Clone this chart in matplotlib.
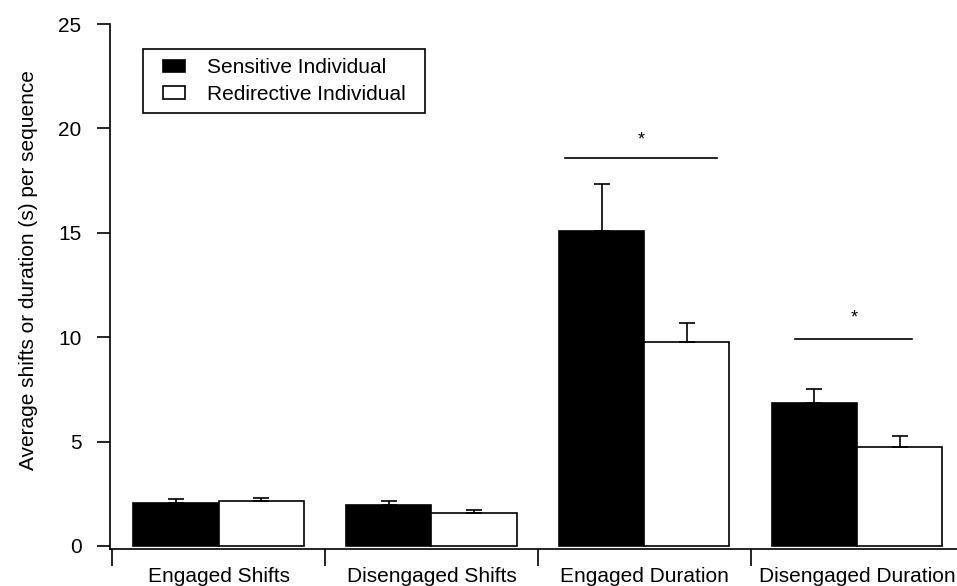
import numpy as np
import matplotlib
matplotlib.use('Agg')
import matplotlib.pyplot as plt
import matplotlib.patches as mpatches
from matplotlib.legend_handler import HandlerPatch

plt.rcParams['font.family'] = ['Liberation Sans', 'DejaVu Sans']

# Dane
kategorie = ['Engaged Shifts', 'Disengaged Shifts', 'Engaged Duration', 'Disengaged Duration']
sensitive = [2.07, 1.96, 15.1, 6.83]
sensitive_err = [0.2, 0.18, 2.25, 0.7]
redirective = [2.15, 1.6, 9.78, 4.73]
redirective_err = [0.15, 0.14, 0.89, 0.52]

# istotnosc: (kategoria, poczatek, koniec, wysokosc linii, wysokosc gwiazdki)
istotne = [(2, -0.37, 0.34, 18.6, 19.45), (3, -0.29, 0.26, 9.9, 10.9)]

x = np.arange(len(kategorie))
w = 0.4
fs = 15


# prostokat w legendzie przesuniety w prawo
def prostokat(legend, orig_handle, xdescent, ydescent, width, height, fontsize):
    hw = 1.05 * fontsize
    return mpatches.Rectangle((-xdescent + width - hw, -ydescent), hw, height)


fig = plt.figure(figsize=(9.57, 5.86), dpi=100)
ax = fig.add_axes([0.115, 0.063, 0.885, 0.896])

b1 = ax.bar(x - w / 2, sensitive, w, color='black', edgecolor='black', linewidth=1.2,
            label='Sensitive Individual')
b2 = ax.bar(x + w / 2, redirective, w, color='white', edgecolor='black', linewidth=1.2,
            label='Redirective Individual')
ax.errorbar(x - w / 2, sensitive, yerr=[np.zeros(4), sensitive_err], fmt='none',
            ecolor='black', elinewidth=1.2, capsize=6, capthick=1.2)
ax.errorbar(x + w / 2, redirective, yerr=[np.zeros(4), redirective_err], fmt='none',
            ecolor='black', elinewidth=1.2, capsize=6, capthick=1.2)

for k, a, b, yl, ys in istotne:
    ax.plot([k + a, k + b], [yl, yl], color='black', linewidth=1.2)
    ax.text(k + (a + b) / 2, ys, '*', ha='center', va='center', fontsize=13)

ax.set_xlim(-0.51, 3.47)
ax.set_ylim(-0.15, 25)
ax.set_yticks([0, 5, 10, 15, 20, 25])
ax.set_xticks([-0.5, 0.5, 1.5, 2.5])
ax.set_xticklabels([])
ax.set_xticks(x, minor=True)
ax.set_xticklabels(kategorie, minor=True)
ax.tick_params(axis='x', which='major', direction='out', length=12, width=1.2)
ax.tick_params(axis='x', which='minor', length=0, pad=13, labelsize=fs)
ax.tick_params(axis='y', direction='out', length=9.5, width=1.2, labelsize=fs, pad=11)
ax.spines['top'].set_visible(False)
ax.spines['right'].set_visible(False)
ax.spines['left'].set_linewidth(1.2)
ax.spines['bottom'].set_linewidth(1.2)
ax.set_ylabel('Average shifts or duration (s) per sequence', fontsize=fs)
ax.yaxis.set_label_coords(-0.085, 0.531)

leg = ax.legend(handles=[b1.patches[0], b2.patches[0]],
                labels=['Sensitive Individual', 'Redirective Individual'],
                loc='upper left',
                bbox_to_anchor=(143 / 957, 1 - 114 / 586, 282 / 957, 65 / 586),
                bbox_transform=fig.transFigure, mode='expand', fontsize=fs,
                fancybox=False, edgecolor='black', framealpha=1,
                handler_map={mpatches.Rectangle: HandlerPatch(patch_func=prostokat)},
                handlelength=1.55, handleheight=0.55, handletextpad=1.05,
                borderpad=0.45, labelspacing=0.35, borderaxespad=0)
leg.get_frame().set_linewidth(1.2)

plt.savefig('out.png', dpi=100)
